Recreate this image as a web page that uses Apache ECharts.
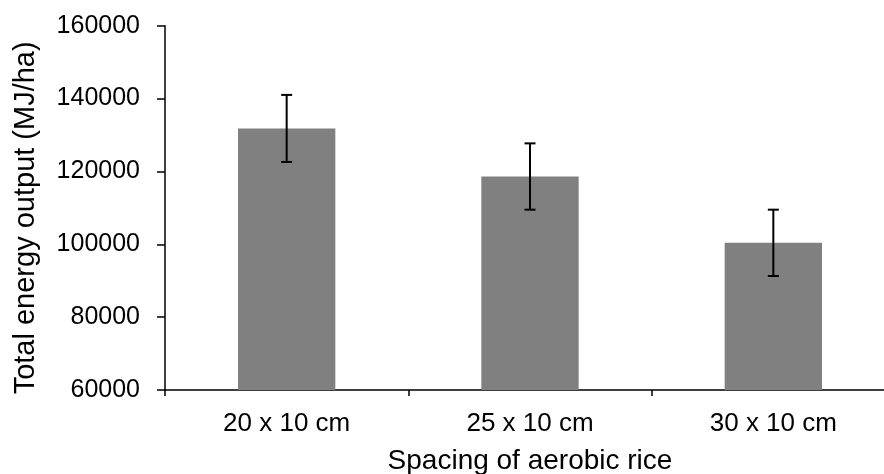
<!DOCTYPE html>
<html><head><meta charset="utf-8">
<script src="https://cdn.jsdelivr.net/npm/echarts@6/dist/echarts.min.js"></script>
<style>html,body{margin:0;padding:0;background:#fff}#c{width:884px;height:474px}</style>
</head><body><div id="c"></div>
<script>
var categories = ['20 x 10 cm', '25 x 10 cm', '30 x 10 cm'];
var values = [131800, 118600, 100400];
var errors = [9200, 9100, 9100];
var yTicks = [60000, 80000, 100000, 120000, 140000, 160000];

var chart = echarts.init(document.getElementById('c'));
var font = 'Liberation Sans, Arial, sans-serif';
var errData = categories.map(function (c, i) { return [i, values[i] - errors[i], values[i] + errors[i]]; });
chart.setOption({
  animation: false,
  grid: { left: 165, width: 730, top: 25.7, height: 364.3, containLabel: false, outerBoundsMode: 'none' },
  xAxis: {
    type: 'category', data: categories,
    name: 'Spacing of aerobic rice', nameLocation: 'middle', nameGap: 57,
    nameTextStyle: { fontFamily: font, fontSize: 28, color: '#000' },
    axisLine: { lineStyle: { color: '#000', width: 1.5 } },
    axisTick: { show: true, length: 6, lineStyle: { color: '#000', width: 1.5 } },
    axisLabel: { fontFamily: font, fontSize: 26, color: '#000', margin: 21 }
  },
  yAxis: {
    type: 'value', min: yTicks[0], max: yTicks[yTicks.length - 1], interval: 20000,
    name: 'Total energy output (MJ/ha)', nameLocation: 'middle', nameGap: 125,
    nameTextStyle: { fontFamily: font, fontSize: 29, color: '#000', padding: [0, 20, 0, 0] },
    axisLine: { show: true, lineStyle: { color: '#000', width: 1.5 } },
    axisTick: { show: true, length: 8, lineStyle: { color: '#000', width: 1.5 } },
    axisLabel: { fontFamily: font, fontSize: 25, color: '#000', margin: 25,
      formatter: function (v) { return String(v); } },
    splitLine: { show: false }
  },
  series: [
    { type: 'bar', data: values, barWidth: '40%', itemStyle: { color: '#808080' } },
    {
      type: 'custom', data: errData, z: 10,
      renderItem: function (params, api) {
        var x = api.value(0);
        var lo = api.coord([x, api.value(1)]);
        var hi = api.coord([x, api.value(2)]);
        var hw = 5.5;
        var st = { stroke: '#000', lineWidth: 2 };
        return { type: 'group', children: [
          { type: 'line', shape: { x1: lo[0], y1: lo[1], x2: hi[0], y2: hi[1] }, style: st },
          { type: 'line', shape: { x1: lo[0] - hw, y1: lo[1], x2: lo[0] + hw, y2: lo[1] }, style: st },
          { type: 'line', shape: { x1: hi[0] - hw, y1: hi[1], x2: hi[0] + hw, y2: hi[1] }, style: st }
        ] };
      }
    }
  ]
});
</script></body></html>
